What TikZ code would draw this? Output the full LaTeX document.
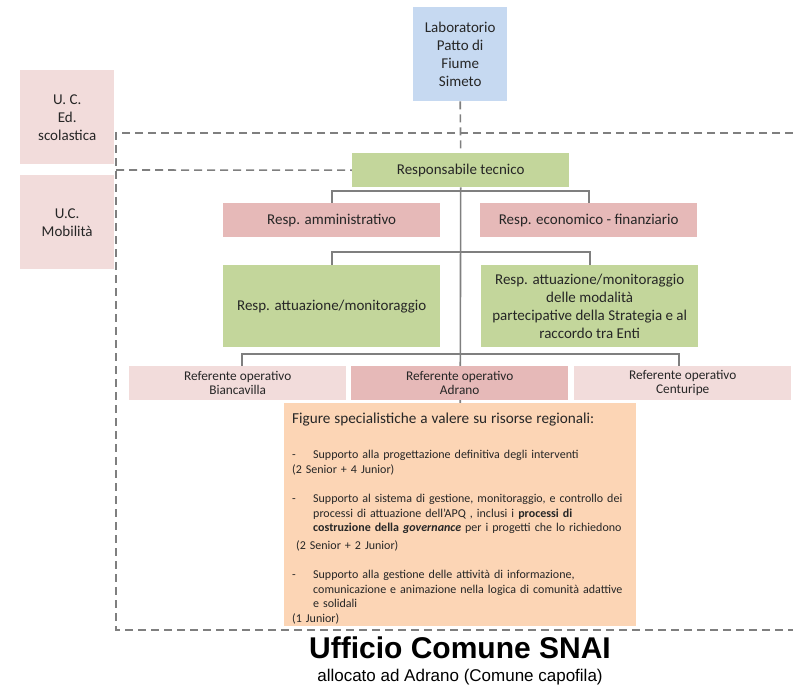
\documentclass[tikz,border=0pt]{standalone}
\usepackage{fontspec}
\setmainfont{Carlito}
\newfontfamily\titlefont{Liberation Sans}
\usetikzlibrary{positioning, calc, backgrounds}

\definecolor{labblue}{HTML}{C6D9F1}
\definecolor{ucpink}{HTML}{F2DCDB}
\definecolor{resppink}{HTML}{E6B9B8}
\definecolor{respgreen}{HTML}{C3D69B}
\definecolor{figorange}{HTML}{FCD5B5}
\definecolor{linegray}{HTML}{7F7F7F}

\newcommand{\figitem}{\makebox[21pt][l]{-}}
\newcommand{\figindent}{\hspace*{21pt}}

\tikzset{
  box/.style={anchor=north west, align=center, inner sep=2pt, text=black!85,
    font=\fontsize{15}{18}\selectfont},
  labbox/.style={box, fill=labblue, minimum width=94pt, minimum height=94pt},
  ucbox/.style={box, fill=ucpink, minimum width=94pt, minimum height=94pt},
  greenbox/.style={box, fill=respgreen, minimum width=217pt},
  redbox/.style={box, fill=resppink, minimum width=217pt, minimum height=34pt},
  refbox/.style={box, fill=ucpink, minimum width=217pt, minimum height=34pt,
    font=\fontsize{13.3}{14}\selectfont},
  figbox/.style={anchor=north west, fill=figorange, text width=336pt, inner xsep=8pt,
    inner ysep=2pt, align=left, text=black!85,
    font=\fontsize{12}{14.5}\selectfont},
  conn/.style={draw=linegray, line width=1.6pt},
  dashline/.style={draw=linegray, line width=1.6pt, dash pattern=on 8pt off 5pt},
}

\begin{document}
\begin{tikzpicture}[x=1pt, y=-1pt]
\useasboundingbox (0,0) rectangle (793,685);

% Top and side boxes
\node[labbox] (lab) at (413,7) {Laboratorio\\Patto di\\Fiume\\Simeto};
\node[ucbox] (ucedu) at (20,70) {U. C.\\Ed.\\scolastica};
\node[ucbox] (ucmob) at (20,175) {U.C.\\Mobilità};

% Organisation chart
\node[greenbox, minimum height=34pt] (tecnico) at (352,153) {Responsabile tecnico};
\node[redbox] (amm) at (223,203) {Resp. amministrativo};
\node[redbox] (econ) at (480,203) {Resp. economico - finanziario};
\node[greenbox, minimum height=82pt] (attuaz) at (223,265) {Resp. attuazione/monitoraggio};
\node[greenbox, minimum height=82pt] (partecip) at (481,265)
  {Resp. attuazione/monitoraggio\\delle modalità\\partecipative della Strategia e al\\raccordo tra Enti};
\node[refbox] (refbianca) at (129,366) {Referente operativo\\Biancavilla};
\node[refbox, fill=resppink] (refadrano) at (351,366) {Referente operativo\\Adrano};
\node[refbox] (refcentu) at (574,366) {Referente operativo\\Centuripe};

% Specialist figures
\node[figbox] (figure) at (284,403) {%
{\fontsize{15.2}{18}\selectfont\rule{0pt}{18pt}Figure specialistiche a valere su risorse regionali:\par}
\vspace{21pt}
\figitem Supporto alla progettazione definitiva degli interventi\par
(2 Senior + 4 Junior)\par
\vspace{15pt}
\figitem Supporto al sistema di gestione, monitoraggio, e controllo dei\\
\figindent processi di attuazione dell’APQ , inclusi i \textbf{processi di}\\
\figindent\textbf{costruzione della \textit{governance}} per i progetti che lo richiedono\par
\vspace{3pt}
\ (2 Senior + 2 Junior)\par
\vspace{15pt}
\figitem Supporto alla gestione delle attività di informazione,\\
\figindent comunicazione e animazione nella logica di comunità adattive\\
\figindent e solidali\par
(1 Junior)};

% Title
\node[font=\titlefont\bfseries\fontsize{30}{34}\selectfont] (title) at (460,648) {Ufficio Comune SNAI};
\node[font=\titlefont\fontsize{17}{20}\selectfont] (subtitle) at (460,677) {allocato ad Adrano (Comune capofila)};

\coordinate (ucl) at (116,170);

% Connectors
\begin{scope}[on background layer]
\draw[conn] (tecnico.south) -- (figure.north);
\draw[conn] (amm.north) -- ++(0,-12) -| (econ.north);
\draw[conn] (attuaz.north) -- ++(0,-13) -| (partecip.north);
\draw[conn] ($(refbianca.north)+(4,0)$) -- ++(0,-12) -| ($(refcentu.north)+(-4,0)$);
\draw[dashline] (lab.south) -- (tecnico.north);
\draw[dashline] (ucl) -- (tecnico.west);
\draw[dashline] (793,133) -- (116,133) -- (116,630) -- (793,630);
\end{scope}
\end{tikzpicture}
\end{document}
